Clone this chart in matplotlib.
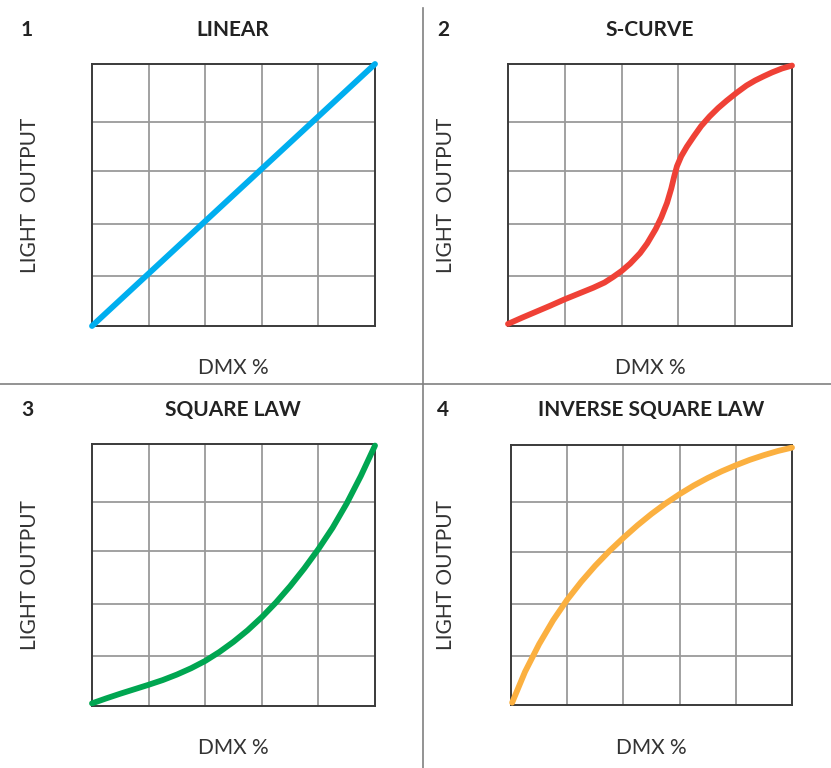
import matplotlib
matplotlib.use("Agg")
import matplotlib.pyplot as plt
from matplotlib.lines import Line2D

plt.rcParams['font.family'] = ['Lato', 'DejaVu Sans']

# curve values (x = DMX %, y = light output %)
linear_x = [0, 100]
linear_y = [0, 100]

scurve_x = [0, 5, 10, 15, 20, 25, 30, 34, 37, 40, 43, 46.5, 49, 52, 54, 56, 57.5, 58.5, 59.5,
            61, 63, 65.5, 68, 71, 74, 77, 80.6, 84, 87, 90, 93, 96.5, 100]
scurve_y = [0.8, 3.2, 5.5, 7.8, 10.2, 12.4, 14.6, 16.6, 18.7, 21, 23.8, 27.8, 31.5, 37, 41.5, 47, 52.5, 57, 61,
            64.8, 68.5, 72.5, 76.3, 80, 83.2, 86, 89.1, 91.8, 93.7, 95.3, 96.8, 98.3, 99.4]

square_x = [0, 5, 10, 15, 20, 25, 30, 35, 40, 45, 50, 55, 60, 65, 70, 75, 80, 85, 90, 95, 100]
square_y = [1, 2.9, 4.7, 6.4, 8.1, 9.9, 12.0, 14.4, 17.2, 20.6, 24.5, 28.9, 33.9, 39.5, 45.7, 52.5, 59.9,
            68.0, 77.3, 87.8, 99.4]

inverse_x = [0.4, 5, 10, 15, 20, 25, 30, 35, 40, 45, 50, 55, 60, 65, 70, 75, 80, 85, 90, 95, 100]
inverse_y = [0.9, 12.8, 23.4, 32.6, 40.5, 47.4, 53.6, 59.2, 64.3, 69.1, 73.5, 77.5, 81.1, 84.4, 87.3,
             89.9, 92.2, 94.3, 96.1, 97.7, 99.0]

titles = ["LINEAR", "S-CURVE", "SQUARE LAW", "INVERSE SQUARE LAW"]
numbers = ["1", "2", "3", "4"]
ylabels = ["LIGHT  OUTPUT", "LIGHT  OUTPUT", "LIGHT OUTPUT", "LIGHT OUTPUT"]
colors = ["#00aeef", "#ef4136", "#00a651", "#fbb040"]
curves = [(linear_x, linear_y), (scurve_x, scurve_y), (square_x, square_y), (inverse_x, inverse_y)]

grid_x = [20, 40, 60, 80]
grid_y = [19, 39, 59, 78]

W, H = 831, 768
fig = plt.figure(figsize=(W / 100, H / 100), dpi=100)

# axes boxes in pixels: left, top, right, bottom
boxes = [(92, 64, 375, 326), (508, 64, 792, 326), (92, 444, 375, 706), (511, 445, 792, 705)]
# text anchors: number x, title centre x, title y, ylabel x, dmx y
label_pos = [(21, 233, 30, 30, 368), (437, 650, 30, 446, 368),
             (21, 233, 410, 30, 748), (437, 651, 410, 446, 748)]

for i in range(4):
    l, t, r, b = boxes[i]
    ax = fig.add_axes([l / W, 1 - b / H, (r - l) / W, (b - t) / H])
    ax.set_xlim(0, 100)
    ax.set_ylim(0, 100)
    ax.set_xticks(grid_x)
    ax.set_yticks(grid_y)
    ax.grid(True, color="#9a9a9a", lw=1.3)
    ax.tick_params(length=0, labelbottom=False, labelleft=False)
    for s in ax.spines.values():
        s.set_color("#3a3a3a")
        s.set_linewidth(1.4)
    xs, ys = curves[i]
    ax.plot(xs, ys, color=colors[i], lw=4.2, solid_capstyle="round",
            solid_joinstyle="round", clip_on=False, zorder=5)

    nx, cx, ty, yx, dy = label_pos[i]
    fig.text(nx / W, 1 - ty / H, numbers[i], fontsize=15, fontweight="bold",
             color="#222222", va="center", ha="left")
    fig.text(cx / W, 1 - ty / H, titles[i], fontsize=15, fontweight="bold",
             color="#222222", va="center", ha="center")
    fig.text(yx / W, 1 - ((t + b) / 2) / H, ylabels[i], fontsize=15, rotation=90,
             color="#333333", va="center", ha="center")
    fig.text(((l + r) / 2) / W, 1 - dy / H, "DMX %", fontsize=15,
             color="#333333", va="center", ha="center")

# divider lines
fig.add_artist(Line2D([423 / W, 423 / W], [0, 1 - 8 / H], color="#808080", lw=1.2))
fig.add_artist(Line2D([0, 1], [1 - 384 / H, 1 - 384 / H], color="#808080", lw=1.2))

fig.savefig("out.png", dpi=100, facecolor="white")
